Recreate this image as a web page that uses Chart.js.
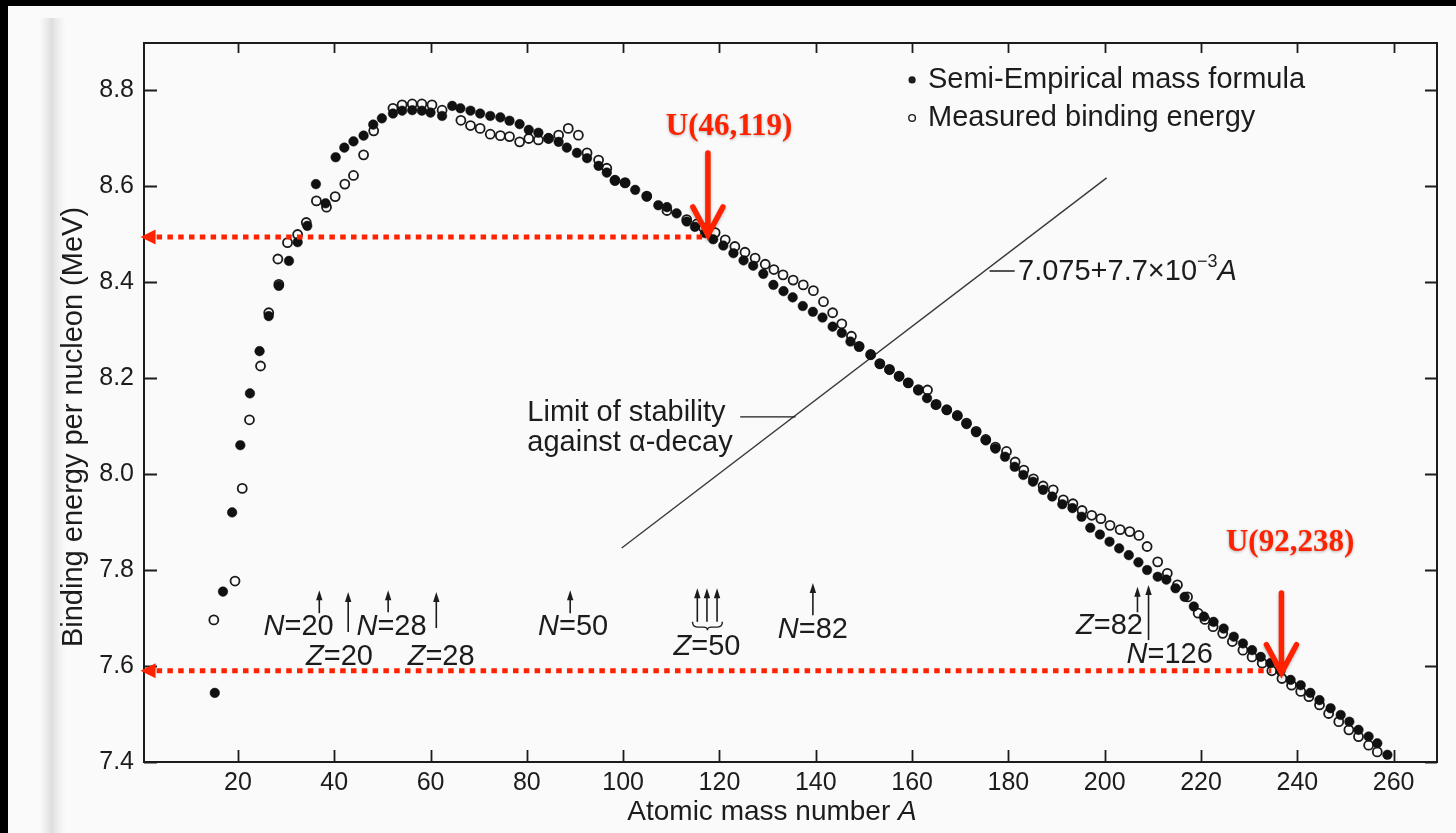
<!DOCTYPE html>
<html>
<head>
<meta charset="utf-8">
<title>Binding energy per nucleon</title>
<script src="https://cdn.jsdelivr.net/npm/chart.js@4.4.1/dist/chart.umd.min.js"></script>
<style>
  html, body { margin: 0; padding: 0; background: #fafafa; overflow: hidden; }
  #chart { display: block; }
</style>
</head>
<body>
<canvas id="chart" width="1456" height="833"></canvas>
<script>
// Valores: número de massa A e energia de ligação por núcleon (MeV)
const semiA = [15.2, 16.9, 18.8, 20.5, 22.5, 24.5, 26.4, 28.5, 30.6, 32.4,
  34.4, 36.2, 38.2, 40.3, 42.1, 44.0, 46.1, 48.1, 49.9, 52.2,
  54.1, 56.2, 58.2, 60.0, 62.4, 64.5, 66.2, 68.3, 70.3, 72.4,
  74.5, 76.4, 78.5, 80.4, 82.4, 84.5, 86.6, 88.3, 90.4, 92.5,
  94.9, 96.6, 98.3, 100.4, 102.5, 104.9, 107.3, 109.1, 111.1, 113.2,
  114.9, 117.0, 118.7, 120.8, 122.9, 125.0, 127.0, 129.1, 131.2, 133.3,
  135.2, 137.3, 139.4, 141.4, 143.5, 145.4, 147.2, 149.0, 151.4, 153.3,
  155.3, 157.3, 159.2, 161.3, 163.1, 164.9, 167.2, 169.4, 171.3, 173.3,
  175.3, 177.3, 179.3, 181.3, 183.1, 185.1, 187.2, 189.1, 191.2, 193.3,
  195.2, 197.0, 199.0, 201.0, 203.0, 205.0, 207.0, 208.8, 211.0, 212.8,
  214.7, 216.6, 218.5, 220.6, 222.6, 224.7, 226.8, 228.7, 230.6, 232.4,
  234.4, 236.5, 238.6, 240.7, 242.7, 244.6, 246.9, 249.0, 250.8, 252.7,
  254.8, 256.6, 258.7];
const semiE = [7.544, 7.755, 7.920, 8.060, 8.168, 8.256, 8.329, 8.392, 8.444, 8.483,
  8.517, 8.604, 8.564, 8.660, 8.680, 8.693, 8.705, 8.728, 8.741, 8.751,
  8.757, 8.758, 8.757, 8.753, 8.746, 8.767, 8.762, 8.757, 8.751, 8.746,
  8.743, 8.736, 8.729, 8.717, 8.711, 8.700, 8.692, 8.680, 8.669, 8.658,
  8.642, 8.628, 8.611, 8.606, 8.592, 8.578, 8.560, 8.556, 8.543, 8.526,
  8.515, 8.502, 8.489, 8.476, 8.460, 8.445, 8.434, 8.417, 8.394, 8.381,
  8.368, 8.350, 8.338, 8.326, 8.307, 8.294, 8.276, 8.265, 8.248, 8.229,
  8.217, 8.203, 8.190, 8.174, 8.158, 8.144, 8.133, 8.121, 8.104, 8.087,
  8.070, 8.053, 8.036, 8.015, 7.998, 7.984, 7.967, 7.953, 7.937, 7.929,
  7.911, 7.888, 7.874, 7.859, 7.845, 7.831, 7.816, 7.800, 7.786, 7.780,
  7.762, 7.744, 7.724, 7.703, 7.692, 7.678, 7.661, 7.647, 7.633, 7.619,
  7.606, 7.590, 7.571, 7.560, 7.544, 7.529, 7.512, 7.498, 7.484, 7.467,
  7.453, 7.439, 7.415];

const measA = [15.0, 19.4, 20.9, 22.4, 24.7, 26.4, 28.3, 28.5, 30.3, 32.4,
  34.2, 36.3, 38.4, 40.2, 42.2, 44.0, 46.1, 48.2, 52.2, 54.1,
  56.2, 58.2, 60.3, 62.4, 66.3, 68.3, 70.3, 72.4, 74.5, 76.4,
  78.5, 80.4, 82.4, 84.5, 86.6, 88.6, 90.7, 92.5, 94.9, 96.6,
  98.3, 100.4, 104.9, 109.1, 113.2, 115.3, 116.7, 119.1, 121.2, 123.2,
  125.3, 127.4, 129.5, 131.3, 133.2, 135.3, 137.4, 139.5, 141.6, 143.5,
  145.4, 147.4, 149.0, 151.4, 153.3, 155.3, 157.3, 159.2, 161.3, 163.2,
  165.0, 167.2, 169.4, 171.3, 173.3, 175.3, 177.3, 179.6, 181.4, 183.2,
  185.2, 187.2, 189.3, 191.4, 193.4, 195.3, 197.3, 199.2, 201.1, 203.2,
  205.2, 207.1, 208.8, 211.0, 213.0, 215.1, 217.2, 219.4, 220.8, 222.5,
  224.5, 226.5, 228.7, 230.6, 232.7, 234.7, 236.8, 238.8, 240.7, 242.4,
  244.6, 246.5, 248.6, 250.7, 252.7, 254.8, 256.6];
const measE = [7.696, 7.777, 7.970, 8.113, 8.225, 8.336, 8.448, 8.395, 8.482, 8.499,
  8.524, 8.569, 8.556, 8.578, 8.604, 8.622, 8.665, 8.715, 8.762, 8.769,
  8.771, 8.771, 8.769, 8.758, 8.737, 8.726, 8.720, 8.708, 8.705, 8.703,
  8.692, 8.699, 8.696, 8.699, 8.706, 8.720, 8.706, 8.669, 8.654, 8.637,
  8.612, 8.607, 8.579, 8.549, 8.530, 8.521, 8.513, 8.503, 8.488, 8.474,
  8.462, 8.450, 8.437, 8.426, 8.415, 8.404, 8.394, 8.382, 8.359, 8.336,
  8.313, 8.287, 8.266, 8.249, 8.230, 8.218, 8.204, 8.190, 8.176, 8.175,
  8.145, 8.134, 8.122, 8.106, 8.089, 8.072, 8.056, 8.047, 8.025, 8.008,
  7.990, 7.975, 7.967, 7.946, 7.938, 7.924, 7.914, 7.907, 7.893, 7.884,
  7.880, 7.872, 7.849, 7.817, 7.793, 7.769, 7.744, 7.710, 7.697, 7.682,
  7.668, 7.651, 7.633, 7.619, 7.606, 7.590, 7.574, 7.560, 7.547, 7.536,
  7.519, 7.501, 7.484, 7.467, 7.453, 7.435, 7.421];

// Reta do limite de estabilidade contra decaimento alfa (extremos lidos)
const alphaA = [99.7, 200.4];
const alphaE = [7.846, 8.617];

// Marcas dos eixos
const xTickValues = [20, 40, 60, 80, 100, 120, 140, 160, 180, 200, 220, 240, 260];
const yTickValues = [7.4, 7.6, 7.8, 8.0, 8.2, 8.4, 8.6, 8.8];

// Números mágicos: [texto em itálico, resto, A, E] e setas [A, E topo, E base]
const shellLabels = [
  ["N", "=20", 32.6, 7.681], ["N", "=28", 51.9, 7.681],
  ["Z", "=20", 41.1, 7.619], ["Z", "=28", 62.2, 7.619],
  ["N", "=50", 89.6, 7.681], ["Z", "=50", 117.4, 7.640],
  ["N", "=82", 139.4, 7.675], ["Z", "=82", 201.0, 7.683],
  ["N", "=126", 213.5, 7.623]
];
const shellArrows = [
  [36.9, 7.758, 7.710], [42.9, 7.754, 7.671], [51.2, 7.758, 7.712],
  [61.2, 7.754, 7.679], [89.0, 7.758, 7.710], [115.4, 7.762, 7.692],
  [117.4, 7.762, 7.692], [119.5, 7.762, 7.692], [139.4, 7.773, 7.706],
  [206.8, 7.765, 7.712], [209.1, 7.769, 7.654]
];

// Destaques em vermelho: rótulo, A da seta, E da linha pontilhada
const uranium = [
  { label: "U(46,119)", a: 117.6, eTop: 8.669, eTip: 8.498, lineE: 8.494, lineEnd: 117.4, labelA: 122.0, labelE: 8.724 },
  { label: "U(92,238)", a: 236.7, eTop: 7.752, eTip: 7.586, lineE: 7.590, lineEnd: 234.6, labelA: 238.5, labelE: 7.857 }
];

const FAM = '"Liberation Sans", Arial, Helvetica, sans-serif';
const INK = "#1c1c1c";
const RED = "#ff2200";

const semiPoints = semiA.map((a, i) => ({ x: a, y: semiE[i] }));
const measPoints = measA.map((a, i) => ({ x: a, y: measE[i] }));
const alphaPoints = alphaA.map((a, i) => ({ x: a, y: alphaE[i] }));

// Função para escrever texto com partes em itálico / expoente
function drawRich(ctx, parts, x, y, size, align) {
  const fontOf = (style) => {
    if (style === "i") return `italic ${size}px ${FAM}`;
    if (style === "sup") return `${Math.round(size * 0.62)}px ${FAM}`;
    return `${size}px ${FAM}`;
  };
  const widths = parts.map(p => { ctx.font = fontOf(p[1]); return ctx.measureText(p[0]).width; });
  const total = widths.reduce((s, w) => s + w, 0);
  let cx = align === "center" ? x - total / 2 : x;
  ctx.textAlign = "left";
  ctx.textBaseline = "middle";
  parts.forEach((p, i) => {
    ctx.font = fontOf(p[1]);
    const dy = p[1] === "sup" ? -size * 0.35 : 0;
    ctx.fillText(p[0], cx, y + dy);
    cx += widths[i];
  });
}

// Fundo da "página digitalizada"
const backgroundPlugin = {
  id: "pageBackground",
  beforeDraw(chart) {
    const ctx = chart.ctx;
    ctx.save();
    ctx.fillStyle = "#fafafa";
    ctx.fillRect(0, 0, chart.width, chart.height);
    const g = ctx.createLinearGradient(40, 0, 66, 0);
    g.addColorStop(0, "rgba(225,225,225,0)");
    g.addColorStop(0.45, "rgba(218,218,218,0.9)");
    g.addColorStop(1, "rgba(235,235,235,0)");
    ctx.fillStyle = g;
    ctx.fillRect(40, 18, 26, chart.height);
    ctx.fillStyle = "#000";
    ctx.fillRect(0, 0, chart.width, 6);
    ctx.fillRect(0, 0, 8, chart.height);
    ctx.restore();
  }
};

// Moldura, marcas internas e anotações
const annotationPlugin = {
  id: "figureAnnotations",
  afterDatasetsDraw(chart) {
    const ctx = chart.ctx;
    const xs = chart.scales.x, ys = chart.scales.y;
    const px = a => xs.getPixelForValue(a);
    const py = e => ys.getPixelForValue(e);
    const area = chart.chartArea;
    ctx.save();

    // moldura
    ctx.strokeStyle = INK;
    ctx.lineWidth = 2;
    ctx.strokeRect(area.left, area.top, area.right - area.left, area.bottom - area.top);
    ctx.lineWidth = 1.8;
    ctx.beginPath();
    xTickValues.forEach(v => {
      const x = Math.round(px(v)) + 0.5;
      ctx.moveTo(x, area.bottom); ctx.lineTo(x, area.bottom - 12);
      ctx.moveTo(x, area.top); ctx.lineTo(x, area.top + 10);
    });
    yTickValues.forEach(v => {
      const y = Math.round(py(v)) + 0.5;
      ctx.moveTo(area.left, y); ctx.lineTo(area.left + 13, y);
      ctx.moveTo(area.right, y); ctx.lineTo(area.right - 12, y);
    });
    ctx.stroke();

    // títulos dos eixos
    ctx.fillStyle = INK;
    drawRich(ctx, [["Atomic mass number ", "n"], ["A", "i"]], 772, 812, 28, "center");
    ctx.save();
    ctx.translate(74, 427);
    ctx.rotate(-Math.PI / 2);
    drawRich(ctx, [["Binding energy per nucleon (MeV)", "n"]], 0, 0, 29, "center");
    ctx.restore();

    // legenda
    ctx.beginPath();
    ctx.arc(px(160), py(8.821), 3.6, 0, Math.PI * 2);
    ctx.fill();
    ctx.beginPath();
    ctx.lineWidth = 1.4;
    ctx.arc(px(160), py(8.742), 3.3, 0, Math.PI * 2);
    ctx.stroke();
    drawRich(ctx, [["Semi-Empirical mass formula", "n"]], px(163.3), py(8.821), 29, "left");
    drawRich(ctx, [["Measured binding energy", "n"]], px(163.3), py(8.742), 29, "left");

    // rótulos da reta alfa
    ctx.lineWidth = 1.3;
    ctx.beginPath();
    ctx.moveTo(px(176.1), py(8.423)); ctx.lineTo(px(181.3), py(8.423));
    ctx.moveTo(px(124.3), py(8.119)); ctx.lineTo(px(135.8), py(8.119));
    ctx.stroke();
    drawRich(ctx, [["7.075+7.7\u00d710", "n"], ["\u22123", "sup"], ["A", "i"]], px(182), py(8.421), 29, "left");
    drawRich(ctx, [["Limit of stability", "n"]], px(80.1), py(8.127), 29, "left");
    drawRich(ctx, [["against \u03b1-decay", "n"]], px(80.1), py(8.065), 29, "left");

    // setas dos números mágicos
    ctx.lineWidth = 1.6;
    shellArrows.forEach(([a, top, bottom]) => {
      const x = px(a), y0 = py(top), y1 = py(bottom);
      ctx.beginPath();
      ctx.moveTo(x, y0 + 6); ctx.lineTo(x, y1);
      ctx.stroke();
      ctx.beginPath();
      ctx.moveTo(x, y0); ctx.lineTo(x - 3.2, y0 + 10); ctx.lineTo(x + 3.2, y0 + 10);
      ctx.closePath();
      ctx.fill();
    });
    // chave sob as três setas de Z=50
    const bl = px(114.4), br = px(120.6), bm = (bl + br) / 2, bt = py(7.692), bb = py(7.681);
    ctx.lineWidth = 1.4;
    ctx.beginPath();
    ctx.moveTo(bl, bt);
    ctx.quadraticCurveTo(bl, bb, bl + 5, bb);
    ctx.lineTo(bm - 4, bb);
    ctx.quadraticCurveTo(bm, bb, bm, bb + 3);
    ctx.quadraticCurveTo(bm, bb, bm + 4, bb);
    ctx.lineTo(br - 5, bb);
    ctx.quadraticCurveTo(br, bb, br, bt);
    ctx.stroke();
    shellLabels.forEach(([it, rest, a, e]) => {
      drawRich(ctx, [[it, "i"], [rest, "n"]], px(a), py(e), 29, "center");
    });

    // destaques em vermelho: linhas pontilhadas, setas e rótulos
    uranium.forEach(u => {
      const yl = py(u.lineE), xl = px(0);
      ctx.fillStyle = RED;
      ctx.strokeStyle = RED;
      ctx.beginPath();
      ctx.moveTo(xl - 1, yl); ctx.lineTo(xl + 14, yl - 7.5); ctx.lineTo(xl + 14, yl + 7.5);
      ctx.closePath();
      ctx.fill();
      ctx.lineWidth = 5;
      ctx.setLineDash([5.5, 5.3]);
      ctx.beginPath();
      ctx.moveTo(xl + 15, yl); ctx.lineTo(px(u.lineEnd), yl);
      ctx.stroke();
      ctx.setLineDash([]);

      ctx.save();
      ctx.shadowColor = "rgba(0,0,0,0.3)";
      ctx.shadowBlur = 3;
      ctx.shadowOffsetY = 1.5;
      const xa = px(u.a), yt = py(u.eTop), ytip = py(u.eTip);
      ctx.lineWidth = 5.5;
      ctx.lineCap = "round";
      ctx.beginPath();
      ctx.moveTo(xa, yt); ctx.lineTo(xa, ytip - 2);
      ctx.moveTo(xa - 15, ytip - 28); ctx.lineTo(xa, ytip);
      ctx.lineTo(xa + 15, ytip - 28);
      ctx.stroke();
      ctx.font = `bold 31px "Liberation Serif", "Times New Roman", serif`;
      ctx.textAlign = "center";
      ctx.textBaseline = "middle";
      ctx.fillText(u.label, px(u.labelA), py(u.labelE));
      ctx.restore();
    });

    ctx.restore();
  }
};

const ctx = document.getElementById("chart").getContext("2d");
new Chart(ctx, {
  type: "scatter",
  data: {
    datasets: [
      {
        label: "Semi-Empirical mass formula",
        data: semiPoints,
        pointRadius: 4.8,
        pointBackgroundColor: "#111",
        pointBorderColor: "#111",
        pointBorderWidth: 0.5,
        order: 1
      },
      {
        label: "Measured binding energy",
        data: measPoints,
        pointRadius: 4.5,
        pointBackgroundColor: "#fbfbfb",
        pointBorderColor: "#1a1a1a",
        pointBorderWidth: 1.8,
        order: 2
      },
      {
        type: "line",
        label: "7.075+7.7e-3 A",
        data: alphaPoints,
        borderColor: "#3a3a3a",
        borderWidth: 1.4,
        pointRadius: 0,
        fill: false,
        order: 3
      }
    ]
  },
  options: {
    responsive: false,
    animation: false,
    devicePixelRatio: 1,
    layout: { padding: { top: 43, right: 19, left: 0, bottom: 0 } },
    plugins: { legend: { display: false }, tooltip: { enabled: false } },
    scales: {
      x: {
        type: "linear",
        min: 0.5,
        max: 269,
        afterBuildTicks: s => { s.ticks = xTickValues.map(v => ({ value: v })); },
        afterFit: s => { s.height = 71; },
        grid: { display: false, drawTicks: false },
        border: { display: false },
        ticks: { font: { family: FAM, size: 25 }, color: INK, padding: 6, maxRotation: 0, autoSkip: false }
      },
      y: {
        type: "linear",
        min: 7.4,
        max: 8.898,
        afterBuildTicks: s => { s.ticks = yTickValues.map(v => ({ value: v })); },
        afterFit: s => { s.width = 144; },
        grid: { display: false, drawTicks: false },
        border: { display: false },
        ticks: {
          font: { family: FAM, size: 25 }, color: INK, padding: 10, autoSkip: false,
          callback: v => Number(v).toFixed(1)
        }
      }
    }
  },
  plugins: [backgroundPlugin, annotationPlugin]
});
</script>
</body>
</html>
